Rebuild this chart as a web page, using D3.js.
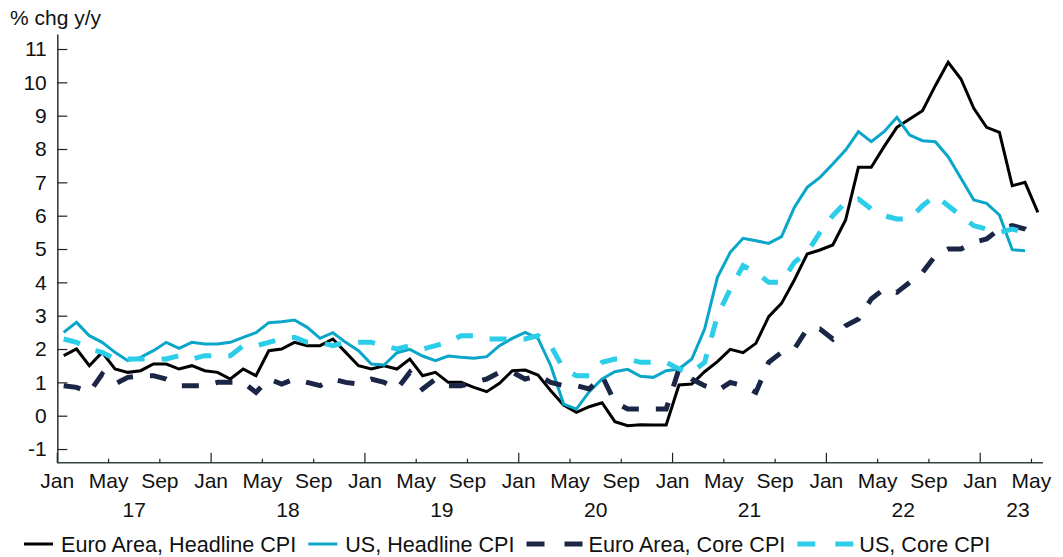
<!DOCTYPE html>
<html>
<head>
<meta charset="utf-8">
<script src="https://cdn.jsdelivr.net/npm/d3@7"></script>
<style>
  html, body { margin: 0; padding: 0; background: #fff; }
  text { font-family: "Liberation Sans", Arial, sans-serif; fill: #111; }
</style>
</head>
<body>
<div id="chart"></div>
<script>
// monthly, Jan 2017 onwards
var monthNames = ["Jan", "May", "Sep"];
var yearLabels = ["17", "18", "19", "20", "21", "22", "23"];
var yTicks = [-1, 0, 1, 2, 3, 4, 5, 6, 7, 8, 9, 10, 11];

var euroHeadline = [
	1.8, 2.0, 1.5, 1.9, 1.4, 1.3, 1.35, 1.55, 1.55, 1.4, 1.5, 1.35,
	1.3, 1.1, 1.4, 1.2, 1.95, 2.0, 2.2, 2.1, 2.1, 2.3, 1.9, 1.5,
	1.4, 1.5, 1.4, 1.7, 1.2, 1.3, 1.0, 1.0, 0.85, 0.72, 0.97, 1.35,
	1.37, 1.22, 0.75, 0.32, 0.1, 0.27, 0.39, -0.18, -0.3, -0.27, -0.28, -0.28,
	0.92, 0.95, 1.32, 1.62, 1.99, 1.89, 2.17, 2.97, 3.37, 4.07, 4.85, 4.97,
	5.12, 5.87, 7.45, 7.45, 8.07, 8.65, 8.9, 9.15, 9.9, 10.6, 10.1, 9.22,
	8.65, 8.5, 6.9, 7.0, 6.1
];
var usHeadline = [
	2.5, 2.8, 2.4, 2.2, 1.9, 1.65, 1.75, 1.95, 2.2, 2.02, 2.2, 2.15,
	2.15, 2.2, 2.35, 2.49, 2.79, 2.82, 2.87, 2.65, 2.32, 2.49, 2.2, 1.95,
	1.55, 1.52, 1.89, 1.99, 1.79, 1.65, 1.79, 1.75, 1.72, 1.77, 2.1, 2.32,
	2.5, 2.32, 1.5, 0.35, 0.2, 0.72, 1.1, 1.32, 1.39, 1.18, 1.15, 1.35,
	1.4, 1.7, 2.6, 4.15, 4.9, 5.32, 5.25, 5.17, 5.37, 6.25, 6.85, 7.15,
	7.55, 7.97, 8.52, 8.22, 8.52, 8.95, 8.42, 8.25, 8.22, 7.77, 7.12, 6.47,
	6.37, 6.02, 4.98, 4.95
];
var euroCore = [
	0.9, 0.85, 0.7, 1.25, 0.95, 1.15, 1.2, 1.2, 1.1, 0.9, 0.9, 0.9,
	1.0, 1.0, 1.0, 0.7, 1.1, 0.95, 1.1, 1.0, 0.9, 1.1, 1.0, 0.95,
	1.1, 1.0, 0.8, 1.3, 0.8, 1.1, 0.9, 0.9, 1.0, 1.1, 1.3, 1.3,
	1.1, 1.2, 1.0, 0.9, 0.9, 0.8, 1.2, 0.4, 0.2, 0.2, 0.2, 0.2,
	1.4, 1.1, 0.9, 0.75, 1.0, 0.9, 0.7, 1.6, 1.9, 2.0, 2.6, 2.6,
	2.3, 2.7, 2.9, 3.5, 3.8, 3.7, 4.0, 4.3, 4.8, 5.0, 5.0, 5.2,
	5.3, 5.6, 5.7, 5.6, 5.35
];
var usCore = [
	2.3, 2.2, 2.0, 1.9, 1.7, 1.7, 1.7, 1.7, 1.7, 1.8, 1.7, 1.8,
	1.8, 1.8, 2.1, 2.1, 2.2, 2.3, 2.35, 2.2, 2.2, 2.1, 2.2, 2.2,
	2.2, 2.1, 2.0, 2.1, 2.0, 2.1, 2.2, 2.4, 2.4, 2.3, 2.3, 2.3,
	2.3, 2.4, 2.1, 1.4, 1.2, 1.2, 1.6, 1.7, 1.7, 1.6, 1.6, 1.6,
	1.4, 1.3, 1.6, 3.0, 3.8, 4.5, 4.3, 4.0, 4.0, 4.6, 4.9, 5.5,
	6.0, 6.4, 6.5, 6.2, 6.0, 5.9, 5.9, 6.3, 6.6, 6.3, 6.0, 5.7,
	5.6, 5.5, 5.6, 5.5
];

var series = [
	{name: "Euro Area, Headline CPI", values: euroHeadline, color: "#000000", width: 3, dash: null},
	{name: "US, Headline CPI", values: usHeadline, color: "#0aa6c9", width: 3, dash: null},
	{name: "Euro Area, Core CPI", values: euroCore, color: "#1b2646", width: 5, dash: "17,17"},
	{name: "US, Core CPI", values: usCore, color: "#2ccde8", width: 5, dash: "17,17"}
];

var width = 1063, height = 557;
var nMonths = 76.9; // axis runs to end of May 2023

var svg = d3.select("#chart").append("svg")
	.attr("width", width)
	.attr("height", height);

svg.append("rect").attr("width", width).attr("height", height).attr("fill", "#fff");

var x = d3.scaleLinear().domain([0, nMonths]).range([57.3, 1043]);
var y = d3.scaleLinear().domain([-1.41, 11.45]).range([462.7, 34]);

var axisColor = "#33453a";
var fontSize = "21px";

// unit label
svg.append("text")
	.attr("x", 10)
	.attr("y", 25)
	.attr("font-size", fontSize)
	.text("% chg y/y");

// y axis
var yAxis = d3.axisLeft(y)
	.tickValues(yTicks)
	.tickFormat(d => String(d))
	.tickSizeInner(-10)
	.tickSizeOuter(0)
	.tickPadding(10.5);

var yG = svg.append("g")
	.attr("transform", "translate(" + x(0) + ",0)")
	.call(yAxis);
yG.select(".domain").attr("stroke", axisColor).attr("stroke-width", 1.6);
yG.selectAll(".tick line").attr("stroke", "#222").attr("stroke-width", 1.2);
yG.selectAll(".tick text")
	.attr("font-family", "Liberation Sans, Arial, sans-serif")
	.attr("font-size", fontSize)
	.attr("fill", "#111");

// x axis
var xTicks = d3.range(0, 77, 4);
var xG = svg.append("g");
xG.append("line")
	.attr("x1", x(0)).attr("x2", x(nMonths))
	.attr("y1", y(-1.41)).attr("y2", y(-1.41))
	.attr("stroke", axisColor)
	.attr("stroke-width", 1.6);

xG.selectAll(".xtick")
	.data(xTicks)
	.enter()
	.append("line")
		.attr("class", "xtick")
		.attr("x1", d => x(d)).attr("x2", d => x(d))
		.attr("y1", y(-1.41))
		.attr("y2", d => y(-1.41) - (d % 12 == 0 ? 10 : 4))
		.attr("stroke", "#222")
		.attr("stroke-width", 1.2);

xG.selectAll(".xlab")
	.data(xTicks)
	.enter()
	.append("text")
		.attr("class", "xlab")
		.attr("x", d => x(d))
		.attr("y", 488)
		.attr("text-anchor", "middle")
		.attr("font-size", fontSize)
		.text(d => monthNames[(d % 12) / 4]);

xG.selectAll(".ylab")
	.data(yearLabels)
	.enter()
	.append("text")
		.attr("class", "ylab")
		.attr("x", function (d, i) {
			var s = i * 12;
			return x(Math.min(s + 6, (s + nMonths) / 2 + 0.5));
		})
		.attr("y", 516.5)
		.attr("text-anchor", "middle")
		.attr("font-size", fontSize)
		.text(d => d);

// lines
var line = d3.line()
	.x((d, i) => x(i + 0.5))
	.y(d => y(d));

for (var s = 0; s < series.length; s++) {
	svg.append("path")
		.datum(series[s].values)
		.attr("d", line)
		.attr("fill", "none")
		.attr("stroke", series[s].color)
		.attr("stroke-width", series[s].width)
		.attr("stroke-linejoin", "miter")
		.attr("stroke-dasharray", series[s].dash);
}

// legend
var legend = svg.append("g");
var lx = 24, ly = 544;
for (var k = 0; k < series.length; k++) {
	var sw = series[k].dash ? 58 : 29;
	legend.append("line")
		.attr("x1", lx).attr("x2", lx + sw)
		.attr("y1", ly).attr("y2", ly)
		.attr("stroke", series[k].color)
		.attr("stroke-width", series[k].width)
		.attr("stroke-dasharray", series[k].dash ? "18,20" : null);
	lx += sw + (series[k].dash ? 4 : 8);
	var t = legend.append("text")
		.attr("x", lx)
		.attr("y", 551.5)
		.attr("font-size", "21.6px")
		.text(series[k].name);
	lx += t.node().getComputedTextLength() + 12;
}
</script>
</body>
</html>
